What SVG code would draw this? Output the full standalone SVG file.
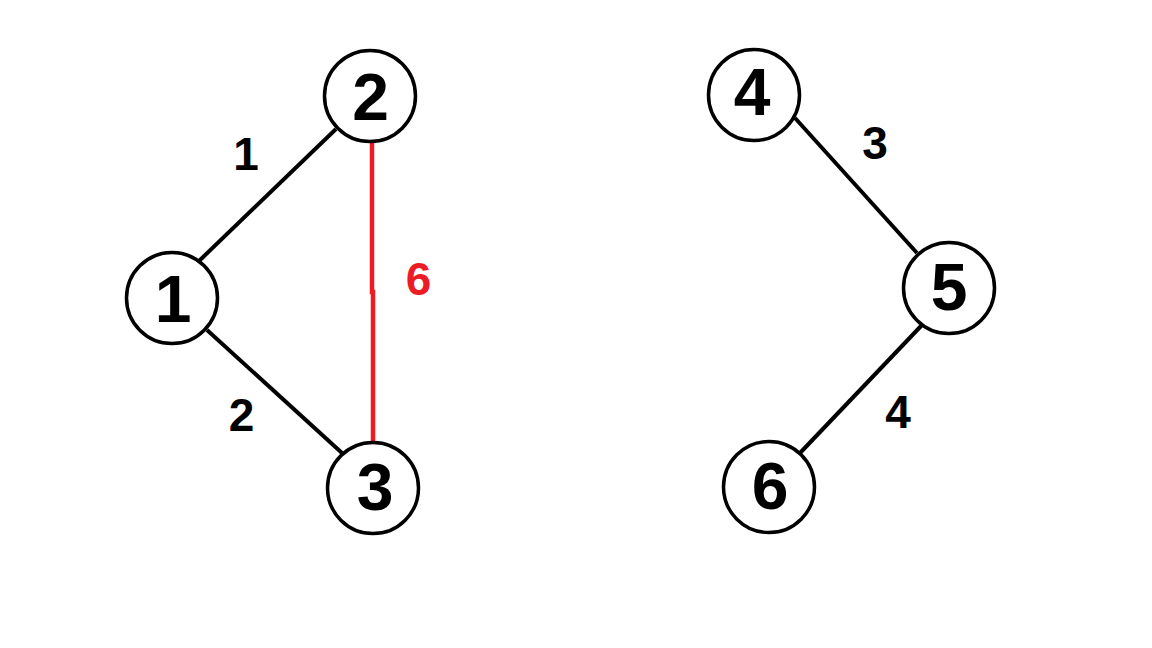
<svg xmlns="http://www.w3.org/2000/svg" width="1152" height="648" viewBox="0 0 1152 648">
<style>
.node circle{fill:#fff;stroke:#000;stroke-width:3.5}
.node text{font-family:"Liberation Sans",Arial,sans-serif;font-weight:bold;font-size:66px;fill:#000;text-anchor:middle}
.edge{stroke:#000;stroke-width:4;fill:none}
.red{stroke:#ED1C24;stroke-width:4.5;fill:none}
.lbl{font-family:"Liberation Sans",Arial,sans-serif;font-weight:bold;font-size:46px;fill:#000;text-anchor:middle}
</style>
<rect width="1152" height="648" fill="#fff"/>
<g id="connectors">
<line class="edge" x1="199" y1="261" x2="336" y2="129"/>
<line class="edge" x1="207" y1="330" x2="342" y2="453"/>
<path class="red" d="M372,140 L372,292 L373,292 L373,444"/>
<line class="edge" x1="795" y1="118" x2="917" y2="253"/>
<line class="edge" x1="922" y1="325" x2="800" y2="453"/>
<text class="lbl" x="246" y="170">1</text>
<text class="lbl" x="241.5" y="431">2</text>
<text class="lbl" x="418.5" y="295" style="fill:#ED1C24">6</text>
<text class="lbl" x="875" y="159">3</text>
<text class="lbl" x="898" y="428">4</text>
</g>
<g id="node1" class="node"><circle cx="172" cy="298" r="45.5"/><text x="173" y="322">1</text></g>
<g id="node2" class="node"><circle cx="370" cy="96" r="45.5"/><text x="370.5" y="120">2</text></g>
<g id="node3" class="node"><circle cx="373" cy="488" r="45.5"/><text x="375" y="510">3</text></g>
<g id="node4" class="node"><circle cx="754" cy="95" r="45.5"/><text x="752" y="115">4</text></g>
<g id="node5" class="node"><circle cx="949" cy="288" r="45.5"/><text x="949" y="310">5</text></g>
<g id="node6" class="node"><circle cx="769" cy="487" r="45.5"/><text x="770" y="509">6</text></g>
</svg>
